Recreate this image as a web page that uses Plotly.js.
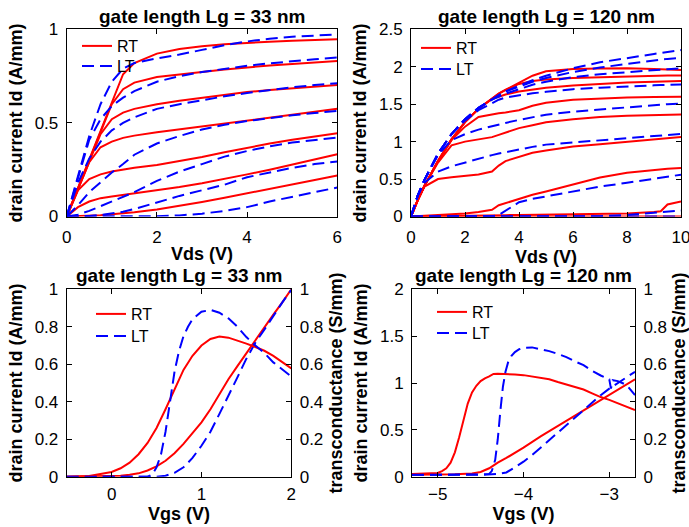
<!DOCTYPE html>
<html>
<head>
<meta charset="utf-8">
<script src="https://cdn.plot.ly/plotly-3.0.1.min.js"></script>
<style>html,body{margin:0;padding:0;background:#fff;}#chart{width:689px;height:527px;}</style>
</head>
<body>
<div id="chart"></div>
<script>
// ---------- Top-left: output characteristics, Lg = 33 nm ----------
const tlVds = [0,0.25,0.5,0.75,1,1.25,1.5,2,2.5,3,3.5,4,4.5,5,5.5,6];
const tlRT1 = [0,0.15,0.3,0.45,0.61,0.76,0.82,0.87,0.895,0.91,0.92,0.928,0.934,0.939,0.943,0.947];
const tlRT2 = [0,0.15,0.3,0.45,0.6,0.68,0.715,0.745,0.76,0.772,0.785,0.797,0.807,0.815,0.823,0.831];
const tlRT3 = [0,0.15,0.3,0.44,0.52,0.555,0.575,0.6,0.618,0.635,0.65,0.665,0.676,0.686,0.695,0.703];
const tlRT4 = [0,0.15,0.29,0.37,0.4,0.42,0.432,0.45,0.465,0.48,0.497,0.513,0.528,0.543,0.559,0.575];
const tlRT5 = [0,0.14,0.2,0.225,0.24,0.25,0.26,0.275,0.295,0.318,0.343,0.368,0.39,0.41,0.428,0.445];
const tlRT6 = [0,0.05,0.08,0.098,0.107,0.115,0.123,0.14,0.158,0.178,0.2,0.225,0.25,0.278,0.305,0.333];
const tlRT7 = [0,0.002,0.004,0.007,0.012,0.017,0.023,0.038,0.057,0.078,0.1,0.123,0.145,0.17,0.195,0.219];
const tlLT1 = [0,0.22,0.43,0.6,0.72,0.79,0.82,0.845,0.865,0.89,0.915,0.935,0.95,0.96,0.967,0.973];
const tlLT2 = [0,0.21,0.41,0.52,0.59,0.635,0.67,0.72,0.75,0.772,0.79,0.805,0.818,0.83,0.84,0.849];
const tlLT3 = [0,0.18,0.31,0.4,0.46,0.5,0.53,0.575,0.6,0.623,0.642,0.66,0.677,0.69,0.702,0.712];
const tlLT4 = [0,0.06,0.13,0.185,0.235,0.28,0.33,0.39,0.43,0.465,0.49,0.51,0.527,0.541,0.553,0.564];
const tlLT5 = [0,0.01,0.03,0.055,0.08,0.105,0.13,0.19,0.24,0.28,0.32,0.35,0.375,0.395,0.41,0.422];
const tlLT6 = [0,0,0.003,0.008,0.015,0.025,0.04,0.075,0.11,0.14,0.17,0.21,0.235,0.26,0.28,0.294];
const tlLT7 = [0,0,0,0,0,0,0,0.002,0.006,0.015,0.03,0.05,0.08,0.105,0.13,0.155];

// ---------- Top-right: output characteristics, Lg = 120 nm ----------
const trVds = [0,0.25,0.5,1,1.5,2,2.5,3,3.25,3.5,4,4.5,5,6,7,8,9,9.25,9.5,10];
const trRT1 = [0,0.22,0.41,0.74,1.03,1.26,1.44,1.58,1.64,1.69,1.79,1.88,1.94,1.97,1.978,1.98,1.97,1.965,1.96,1.955];
const trRT2 = [0,0.22,0.41,0.74,1.03,1.26,1.44,1.58,1.64,1.69,1.77,1.81,1.83,1.85,1.862,1.872,1.879,1.881,1.883,1.884];
const trRT3 = [0,0.22,0.41,0.74,1.03,1.26,1.44,1.57,1.6,1.63,1.67,1.7,1.72,1.75,1.775,1.79,1.8,1.803,1.806,1.808];
const trRT4 = [0,0.22,0.41,0.74,1.02,1.2,1.33,1.37,1.38,1.39,1.42,1.48,1.52,1.56,1.58,1.59,1.595,1.596,1.597,1.598];
const trRT5 = [0,0.22,0.41,0.72,0.95,1.0,1.03,1.06,1.09,1.12,1.18,1.22,1.26,1.3,1.33,1.345,1.355,1.358,1.36,1.362];
const trRT6 = [0,0.22,0.4,0.5,0.525,0.545,0.56,0.6,0.68,0.74,0.8,0.85,0.88,0.935,0.965,1.0,1.03,1.04,1.05,1.062];
const trRT7 = [0,0.005,0.01,0.02,0.03,0.04,0.06,0.09,0.15,0.18,0.24,0.29,0.335,0.43,0.52,0.585,0.622,0.63,0.637,0.647];
const trRT8 = [0,0.002,0.004,0.006,0.008,0.01,0.012,0.015,0.016,0.018,0.02,0.022,0.025,0.03,0.035,0.04,0.06,0.07,0.16,0.2];
const trRT9 = [0,0,0,0,0,0,0,0,0,0,0,0,0,0,0,0,0,0,0,0];
const trLT1 = [0,0.28,0.49,0.84,1.1,1.3,1.45,1.57,1.62,1.67,1.75,1.82,1.88,1.98,2.06,2.12,2.17,2.185,2.2,2.223];
const trLT2 = [0,0.28,0.49,0.84,1.1,1.3,1.45,1.57,1.62,1.67,1.74,1.8,1.85,1.93,1.99,2.04,2.085,2.095,2.105,2.12];
const trLT3 = [0,0.28,0.49,0.84,1.1,1.3,1.45,1.56,1.6,1.64,1.7,1.76,1.8,1.86,1.9,1.93,1.955,1.962,1.968,1.978];
const trLT4 = [0,0.28,0.49,0.84,1.1,1.28,1.42,1.52,1.56,1.59,1.62,1.645,1.665,1.7,1.72,1.74,1.752,1.755,1.758,1.763];
const trLT5 = [0,0.28,0.49,0.82,1.02,1.1,1.16,1.21,1.23,1.25,1.29,1.33,1.36,1.4,1.43,1.46,1.485,1.492,1.5,1.509];
const trLT6 = [0,0.28,0.45,0.6,0.67,0.72,0.78,0.82,0.84,0.86,0.9,0.93,0.96,0.99,1.02,1.05,1.08,1.087,1.093,1.103];
const trLT7 = [0,0,0,0,0,0,0,0.003,0.02,0.08,0.19,0.235,0.27,0.34,0.4,0.45,0.5,0.515,0.53,0.558];
const trLT8 = [0,0,0,0,0,0,0,0,0,0,0,0,0,0,0.005,0.02,0.045,0.055,0.065,0.08];
const trLT9 = [0,0,0,0,0,0,0,0,0,0,0,0,0,0,0,0,0,0,0,0];

// ---------- Bottom-left: transfer, Lg = 33 nm ----------
const blVgs   = [-0.5,-0.25,0,0.1,0.2,0.3,0.4,0.5,0.6,0.7,0.8,0.9,1,1.1,1.2,1.3,1.4,1.5,1.6,1.7,1.8,1.9,2];
const blIdRT  = [0,0.0005,0.002,0.005,0.01,0.018,0.033,0.055,0.085,0.125,0.175,0.23,0.29,0.36,0.44,0.52,0.59,0.66,0.73,0.8,0.865,0.93,1.0];
const blGmRT  = [0,0.004,0.025,0.045,0.075,0.12,0.18,0.26,0.36,0.47,0.57,0.645,0.7,0.735,0.748,0.742,0.728,0.71,0.692,0.672,0.645,0.612,0.578];
const blIdLT  = [0,0,0,0,0,0,0,0,0.005,0.02,0.05,0.1,0.165,0.24,0.335,0.43,0.53,0.63,0.715,0.785,0.86,0.93,0.997];
const blVgsGmLT = [-0.5,0.3,0.4,0.45,0.5,0.55,0.6,0.65,0.7,0.75,0.8,0.85,0.9,1,1.1,1.2,1.3,1.4,1.5,1.6,1.7,1.8,1.9,2];
const blGmLT  = [0,0,0,0.01,0.05,0.12,0.24,0.4,0.56,0.67,0.75,0.8,0.84,0.88,0.89,0.875,0.845,0.8,0.745,0.7,0.66,0.61,0.57,0.535];

// ---------- Bottom-right: transfer, Lg = 120 nm ----------
const brVgsIdRT = [-5.3,-5.0,-4.8,-4.6,-4.5,-4.4,-4.3,-4.2,-4.0,-3.8,-3.6,-3.4,-3.2,-3.0,-2.8,-2.7];
const brIdRT    = [0.02,0.02,0.025,0.035,0.05,0.09,0.15,0.2,0.31,0.43,0.54,0.655,0.765,0.875,0.98,1.04];
const brVgsGmRT = [-5.3,-5.1,-5.0,-4.95,-4.9,-4.85,-4.8,-4.75,-4.7,-4.65,-4.6,-4.55,-4.5,-4.45,-4.4,-4.35,-4.3,-4.25,-4.2,-4.1,-4.0,-3.9,-3.8,-3.7,-3.6,-3.5,-3.4,-3.3,-3.2,-3.1,-3.0,-2.9,-2.8,-2.7];
const brGmRT    = [0.015,0.018,0.02,0.03,0.045,0.075,0.13,0.21,0.3,0.39,0.45,0.485,0.51,0.525,0.535,0.548,0.55,0.548,0.545,0.545,0.542,0.535,0.528,0.52,0.505,0.492,0.478,0.465,0.445,0.425,0.41,0.393,0.375,0.356];
const brVgsIdLT = [-5.3,-4.8,-4.5,-4.3,-4.2,-4.1,-4.0,-3.9,-3.8,-3.7,-3.6,-3.5,-3.4,-3.3,-3.2,-3.1,-3.0,-2.9,-2.8,-2.7];
const brIdLT    = [0.02,0.02,0.02,0.03,0.045,0.1,0.16,0.23,0.31,0.39,0.47,0.555,0.64,0.72,0.8,0.87,0.94,1.0,1.06,1.12];
const brVgsGmLT = [-5.3,-5.0,-4.7,-4.5,-4.4,-4.37,-4.33,-4.3,-4.27,-4.24,-4.21,-4.18,-4.14,-4.1,-4.05,-4.0,-3.9,-3.8,-3.7,-3.6,-3.5,-3.4,-3.3,-3.2,-3.1,-3.0,-2.98,-2.96,-2.9,-2.8,-2.75,-2.7];
const brGmLT    = [0.01,0.01,0.012,0.012,0.015,0.03,0.09,0.2,0.35,0.48,0.56,0.61,0.645,0.665,0.68,0.688,0.69,0.682,0.67,0.655,0.638,0.615,0.595,0.565,0.54,0.52,0.47,0.515,0.51,0.49,0.465,0.436];

// ---------- Text ----------
const titles33 = "gate length Lg = 33 nm";
const titles120 = "gate length Lg = 120 nm";
const labelId = "drain current Id (A/mm)";
const labelGm = "transconductance (S/mm)";
const labelVds = "Vds (V)";
const labelVgs = "Vgs (V)";
const nameRT = "RT", nameLT = "LT";

// ---------- Styling / layout helpers ----------
const W = 689, H = 527;
const FONT = "Liberation Sans, Arial, Helvetica, sans-serif";
const RED = "#ff0000", BLUE = "#0000ff";
const LW = 2;
const DASH = "12px,6px";
const fx = p => p / W;
const fy = p => (H - p) / H;

const traces = [];
function addCurve(x, y, isRT, xa, ya, legendId, show) {
  traces.push({
    type: "scatter", mode: "lines", x: x, y: y, xaxis: xa, yaxis: ya,
    name: isRT ? nameRT : nameLT, legend: legendId, showlegend: !!show,
    line: { color: isRT ? RED : BLUE, width: LW, dash: isRT ? "solid" : DASH },
    hoverinfo: "skip"
  });
}
// top-left
[tlRT1, tlRT2, tlRT3, tlRT4, tlRT5, tlRT6, tlRT7].forEach((c, i) => addCurve(tlVds, c, true, "x", "y", "legend", i === 0));
[tlLT1, tlLT2, tlLT3, tlLT4, tlLT5, tlLT6, tlLT7].forEach((c, i) => addCurve(tlVds, c, false, "x", "y", "legend2", i === 0));
// top-right
[trRT1, trRT2, trRT3, trRT4, trRT5, trRT6, trRT7, trRT8, trRT9].forEach((c, i) => addCurve(trVds, c, true, "x2", "y2", "legend3", i === 0));
[trLT1, trLT2, trLT3, trLT4, trLT5, trLT6, trLT7, trLT8, trLT9].forEach((c, i) => addCurve(trVds, c, false, "x2", "y2", "legend4", i === 0));
// bottom-left
addCurve(blVgs, blIdRT, true, "x3", "y3", "legend5", true);
addCurve(blVgs, blGmRT, true, "x3", "y5", "legend5", false);
addCurve(blVgs, blIdLT, false, "x3", "y3", "legend6", true);
addCurve(blVgsGmLT, blGmLT, false, "x3", "y5", "legend6", false);
// bottom-right
addCurve(brVgsIdRT, brIdRT, true, "x4", "y4", "legend7", true);
addCurve(brVgsGmRT, brGmRT, true, "x4", "y6", "legend7", false);
addCurve(brVgsIdLT, brIdLT, false, "x4", "y4", "legend8", true);
addCurve(brVgsGmLT, brGmLT, false, "x4", "y6", "legend8", false);

const TICKF = { family: FONT, size: 17, color: "#000" };
const LABF = { family: FONT, size: 18, color: "#000", weight: "bold" };

function xAxis(dom, range, dtick, title, anchor, tls, st) {
  return {
    domain: dom, range: range, dtick: dtick, tick0: 0, anchor: anchor,
    showgrid: false, zeroline: false, showline: true, linecolor: "#000", linewidth: 1,
    mirror: "ticks", ticks: "inside", ticklen: 5, tickcolor: "#000", tickwidth: 1,
    tickfont: TICKF, ticklabelstandoff: tls, ticklabeloverflow: "allow", automargin: false,
    title: { text: title, font: LABF, standoff: st }
  };
}
function yAxis(dom, range, dtick, title, anchor, extra) {
  return Object.assign({
    domain: dom, range: range, dtick: dtick, tick0: 0, anchor: anchor,
    showgrid: false, zeroline: false, showline: true, linecolor: "#000", linewidth: 1,
    ticks: "inside", ticklen: 5, tickcolor: "#000", tickwidth: 1,
    tickfont: TICKF, ticklabelstandoff: 4, ticklabeloverflow: "allow", automargin: false,
    title: { text: title, font: LABF, standoff: 7 }
  }, extra || {});
}

const topY = [fy(216.5), fy(29.3)];
const botY = [fy(476.7), fy(289.3)];
function leg(xp, yp) {
  return {
    bgcolor: "rgba(0,0,0,0)", borderwidth: 0,
    font: { family: FONT, size: 16, color: "#000" },
    xref: "paper", yref: "paper", xanchor: "left", yanchor: "top",
    itemwidth: 30, x: fx(xp), y: fy(yp)
  };
}
const TITF = { family: FONT, size: 19, color: "#000", weight: "bold" };
function ttl(text, xp, yp) {
  return { text: text, x: fx(xp), y: fy(yp), xref: "paper", yref: "paper", xanchor: "center", yanchor: "middle", showarrow: false, font: TITF };
}

const layout = {
  width: W, height: H,
  margin: { l: 0, r: 0, t: 0, b: 0, pad: 0 },
  paper_bgcolor: "#fff", plot_bgcolor: "#fff",
  font: { family: FONT, color: "#000" },
  showlegend: true,
  xaxis:  xAxis([fx(66.7), fx(337.3)], [0, 6], 2, labelVds, "y", 5, 1),
  yaxis:  yAxis(topY, [0, 1], 0.5, labelId, "x", { mirror: "ticks" }),
  xaxis2: xAxis([fx(411), fx(681)], [0, 10], 2, labelVds, "y2", 5, 1),
  yaxis2: yAxis(topY, [0, 2.5], 0.5, labelId, "x2", { mirror: "ticks" }),
  xaxis3: xAxis([fx(66.7), fx(291.3)], [-0.5, 2], 1, labelVgs, "y3", 2, 0),
  yaxis3: yAxis(botY, [0, 1], 0.2, labelId, "x3"),
  yaxis5: yAxis(botY, [0, 1], 0.2, labelGm, "x3", { overlaying: "y3", side: "right" }),
  xaxis4: xAxis([fx(412), fx(635)], [-5.3, -2.7], 1, labelVgs, "y4", 2, 0),
  yaxis4: yAxis(botY, [0, 2], 0.5, labelId, "x4"),
  yaxis6: yAxis(botY, [0, 1], 0.2, labelGm, "x4", { overlaying: "y4", side: "right" }),
  legend:  leg(77, 29),
  legend2: leg(77, 49),
  legend3: leg(416, 31),
  legend4: leg(416, 52),
  legend5: leg(91, 297),
  legend6: leg(91, 319),
  legend7: leg(432, 295),
  legend8: leg(432, 316),
  annotations: [
    ttl(titles33, 202, 17),
    ttl(titles120, 546, 17),
    ttl(titles33, 179, 275),
    ttl(titles120, 523.5, 275)
  ]
};

Plotly.newPlot("chart", traces, layout, { displayModeBar: false, staticPlot: true });
</script>
</body>
</html>
